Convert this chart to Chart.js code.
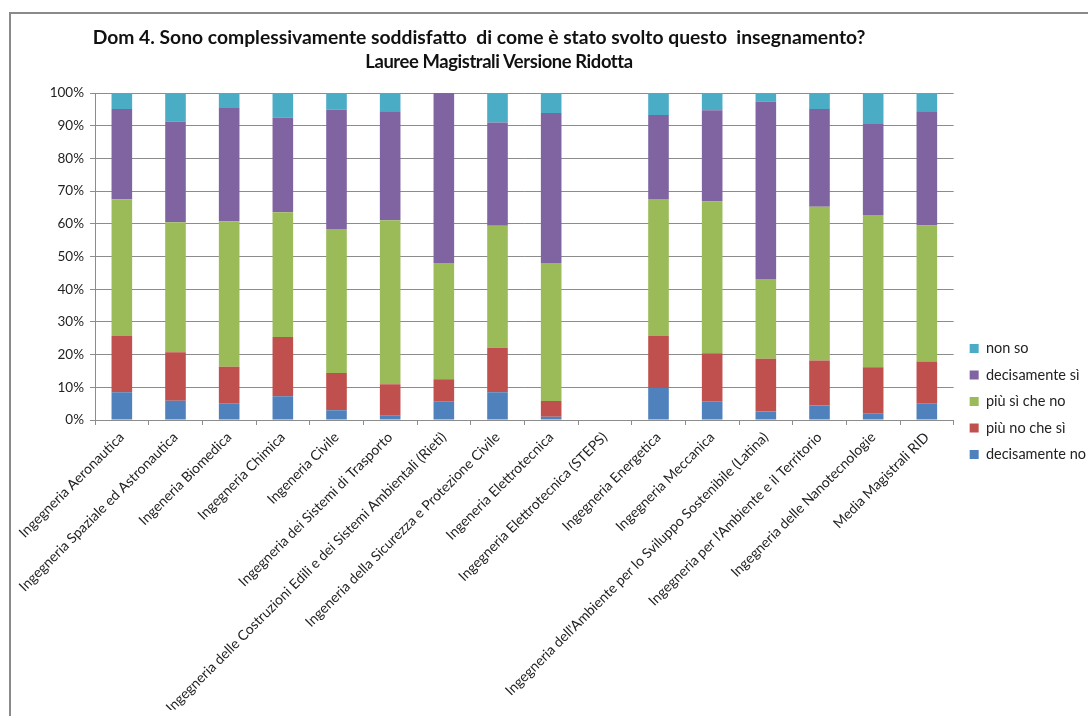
<!DOCTYPE html>
<html>
<head>
<meta charset="utf-8">
<script src="https://cdn.jsdelivr.net/npm/chart.js@4.4.1/dist/chart.umd.min.js"></script>
<style>
  body { margin: 0; background: #fff; }
  #wrap { position: relative; width: 1088px; height: 716px; overflow: hidden; }
  #frame { position: absolute; left: 9px; top: 12px; right: -10px; bottom: -10px;
           border-top: 2px solid #8a8a8a; border-left: 2px solid #8a8a8a; }
  .title { position: absolute; left: 0; text-align: center; white-space: nowrap;
           font-family: Lato, sans-serif; font-weight: bold; line-height: 24px; color: #111; }
  #title1 { top: 25px; width: 958px; font-size: 19.3px; }
  #title2 { top: 49px; width: 998px; font-size: 18.4px; letter-spacing: -0.4px; }
  canvas { position: absolute; left: 0; top: 0; }
</style>
</head>
<body>
<div id="wrap">
  <div id="frame"></div>
  <canvas id="chart" width="1088" height="716"></canvas>
  <div class="title" id="title1">Dom 4. Sono complessivamente soddisfatto&nbsp; di come è stato svolto questo&nbsp; insegnamento?</div>
  <div class="title" id="title2">Lauree Magistrali Versione Ridotta</div>
</div>
<script>
// corsi di laurea magistrale
const categories = [
  "Ingegneria Aeronautica",
  "Ingegneria Spaziale ed Astronautica",
  "Ingeneria Biomedica",
  "Ingegneria Chimica",
  "Ingeneria Civile",
  "Ingegneria dei Sistemi di Trasporto",
  "Ingegneria delle Costruzioni Edili e dei Sistemi Ambientali (Rieti)",
  "Ingeneria della Sicurezza e Protezione Civile",
  "Ingeneria Elettrotecnica",
  "Ingegneria Elettrotecnica (STEPS)",
  "Ingegneria Energetica",
  "Ingegneria Meccanica",
  "Ingegneria dell'Ambiente per lo Sviluppo Sostenibile (Latina)",
  "Ingegneria per l'Ambiente e il Territorio",
  "Ingegneria delle Nanotecnologie",
  "Media Magistrali RID"
];

// percentuali
const decisamenteNo = [8.5, 5.9, 5.1, 7.3, 3.0, 1.3, 5.7, 8.5, 1.0, null, 9.8, 5.7, 2.6, 4.4, 2.1, 5.1];
const piuNoCheSi    = [17.2, 14.8, 11.2, 18.1, 11.4, 9.6, 6.8, 13.6, 4.8, null, 15.9, 14.7, 16.1, 13.8, 14.0, 12.8];
const piuSiCheNo    = [41.8, 39.8, 44.5, 38.1, 44.0, 50.2, 35.5, 37.3, 42.2, null, 41.9, 46.4, 24.4, 47.0, 46.6, 41.6];
const decisamenteSi = [27.6, 30.8, 34.6, 29.0, 36.5, 33.3, 52.0, 31.6, 45.9, null, 25.7, 27.9, 54.3, 29.9, 27.8, 34.9];
const nonSo         = [4.9, 8.7, 4.6, 7.5, 5.1, 5.6, 0, 9.0, 6.1, null, 6.7, 5.3, 2.6, 4.9, 9.5, 5.6];

const yTicks = [0, 10, 20, 30, 40, 50, 60, 70, 80, 90, 100];

const gridGray = "#8c8c8c";

// nudge the legend a bit to the right, like Excel does
const legendShift = {
  id: "legendShift",
  afterLayout(chart) {
    chart.legend.left += 4;
    chart.legend.right += 4;
  }
};

const ctx = document.getElementById("chart").getContext("2d");
new Chart(ctx, {
  type: "bar",
  data: {
    labels: categories,
    datasets: [
      { label: "decisamente no", data: decisamenteNo, backgroundColor: "#4F81BD" },
      { label: "più no che sì", data: piuNoCheSi, backgroundColor: "#C0504D" },
      { label: "più sì che no", data: piuSiCheNo, backgroundColor: "#9BBB59" },
      { label: "decisamente sì", data: decisamenteSi, backgroundColor: "#8064A2" },
      { label: "non so", data: nonSo, backgroundColor: "#4BACC6" }
    ]
  },
  plugins: [legendShift],
  options: {
    responsive: false,
    animation: false,
    categoryPercentage: 0.8,
    barPercentage: 0.48,
    layout: { padding: { left: 10, top: 93, right: -4, bottom: 6 } },
    scales: {
      x: {
        stacked: true,
        grid: { offset: true, drawOnChartArea: false, color: gridGray, tickLength: 5 },
        border: { color: gridGray },
        ticks: {
          color: "#222", font: { family: "Lato", size: 14 }, autoSkip: false,
          minRotation: 45, maxRotation: 45, padding: 4
        },
        afterFit: (scale) => { scale.height = 290; }
      },
      y: {
        stacked: true,
        min: 0,
        max: 100,
        afterBuildTicks: (scale) => { scale.ticks = yTicks.map(v => ({ value: v })); },
        grid: { color: gridGray, tickLength: 5 },
        border: { color: gridGray },
        ticks: { color: "#222", font: { family: "Lato", size: 13.5 }, padding: 6, callback: (v) => v + "%" },
        afterFit: (scale) => { scale.width = 85; }
      }
    },
    plugins: {
      legend: {
        position: "right",
        reverse: true,
        labels: {
          boxWidth: 9, boxHeight: 9, padding: 12,
          color: "#222", font: { family: "Lato", size: 14.5 }
        }
      },
      tooltip: { enabled: false }
    }
  }
});
</script>
</body>
</html>
